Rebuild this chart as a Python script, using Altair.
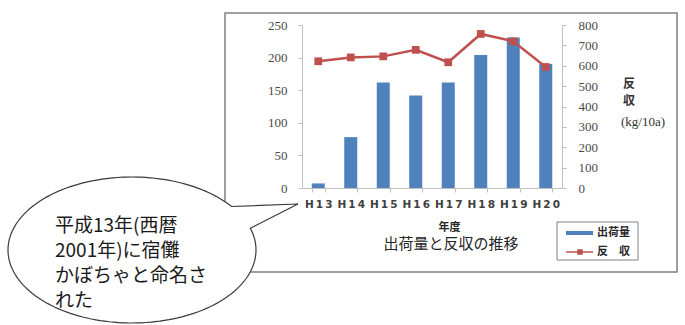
import altair as alt
import pandas as pd
import numpy as np

# ---- data ----
years = ["H13", "H14", "H15", "H16", "H17", "H18", "H19", "H20"]
shipment = [7, 78, 162, 142, 162, 204, 231, 190]          # 出荷量 (left axis)
yield_10a = [622, 641, 646, 678, 617, 756, 720, 594]      # 反収 kg/10a (right axis)
left_ticks = [0, 50, 100, 150, 200, 250]
right_ticks = [0, 100, 200, 300, 400, 500, 600, 700, 800]

chart_title = "出荷量と反収の推移"
x_title = "年度"
legend_labels = ["出荷量", "反　収"]
right_title_chars = ["反", "収"]
right_title_unit = "(kg/10a)"
bubble_lines = ["平成13年(西暦", "2001年)に宿儺", "かぼちゃと命名さ", "れた"]

BLUE = "#4F81BD"
RED = "#C0504D"
JP = "Noto Sans CJK JP"
SERIF = "Liberation Serif"

# plot-area placement inside the 685x325 canvas
OX, OY = 302, 25
W, H = 260, 163

df = pd.DataFrame({"year": years, "ship": shipment, "yld": yield_10a})
one = pd.DataFrame({"k": [0]})

xenc = alt.X(
    "year:N", sort=years,
    scale=alt.Scale(paddingInner=0.6, paddingOuter=0.3),
    axis=alt.Axis(
        title=x_title, labelAngle=0, labelFont="DejaVu Sans", labelFontWeight="bold",
        labelFontSize=10.5, labelColor="#404040", labelPadding=7,
        labelExpr="join(split(datum.label, ''), '\u2009')",
        domainColor="#bfbfbf", tickColor="#bfbfbf", tickSize=4, tickBand="extent",
        titleFont=JP, titleFontSize=11, titleFontWeight="bold", titleColor="#262626",
        titleX=147, titleY=39, titleBaseline="middle", titleAlign="center", zindex=1,
    ),
)

bars = alt.Chart(df).mark_bar(color=BLUE).encode(
    x=xenc,
    y=alt.Y("ship:Q", scale=alt.Scale(domain=[0, 250]),
            axis=alt.Axis(orient="left", values=left_ticks, title=None, grid=False,
                          labelFont=SERIF, labelFontSize=13, labelColor="#4a4a4a",
                          labelPadding=11, domainColor="#bfbfbf", tickColor="#bfbfbf",
                          tickSize=4, zindex=1)),
)

line = alt.Chart(df).mark_line(
    color=RED, strokeWidth=2.5,
    point=alt.OverlayMarkDef(shape="square", size=60, filled=True, color=RED, opacity=1),
).encode(
    x=xenc,
    y=alt.Y("yld:Q", scale=alt.Scale(domain=[0, 800]),
            axis=alt.Axis(orient="right", values=right_ticks, title=None, grid=False,
                          labelFont=SERIF, labelFontSize=13, labelColor="#4a4a4a",
                          labelPadding=12, domainColor="#bfbfbf", tickColor="#bfbfbf",
                          tickSize=4, zindex=1)),
)

# outer frame of the chart
frame = alt.Chart(one).mark_rect(fillOpacity=0, fill="white", stroke="#808080", strokeWidth=1.5).encode(
    x=alt.value(225 - OX), x2=alt.value(677 - OX),
    y=alt.value(13 - OY), y2=alt.value(272 - OY),
)

title_txt = alt.Chart(one).mark_text(
    font=JP, fontSize=15, color="#262626", align="center", baseline="middle"
).encode(x=alt.value(451 - OX), y=alt.value(244 - OY), text=alt.value(chart_title))

rt1 = alt.Chart(one).mark_text(
    font=JP, fontSize=12, fontWeight="bold", color="#333333", align="center", baseline="middle"
).encode(x=alt.value(629 - OX), y=alt.value(84 - OY), text=alt.value(right_title_chars[0]))
rt2 = alt.Chart(one).mark_text(
    font=JP, fontSize=12, fontWeight="bold", color="#333333", align="center", baseline="middle"
).encode(x=alt.value(629 - OX), y=alt.value(101 - OY), text=alt.value(right_title_chars[1]))
rt3 = alt.Chart(one).mark_text(
    font=SERIF, fontSize=13, color="#333333", align="center", baseline="middle"
).encode(x=alt.value(643 - OX), y=alt.value(122 - OY), text=alt.value(right_title_unit))

# legend (drawn by hand, Excel style)
lg_box = alt.Chart(one).mark_rect(fill="white", stroke="#808080", strokeWidth=1).encode(
    x=alt.value(557 - OX), x2=alt.value(638 - OX),
    y=alt.value(222 - OY), y2=alt.value(260 - OY),
)
lg_l1 = alt.Chart(one).mark_rule(color=BLUE, strokeWidth=4).encode(
    x=alt.value(566 - OX), x2=alt.value(593 - OX), y=alt.value(233 - OY))
lg_l2 = alt.Chart(one).mark_rule(color=RED, strokeWidth=1.5).encode(
    x=alt.value(566 - OX), x2=alt.value(593 - OX), y=alt.value(252 - OY))
lg_pt = alt.Chart(one).mark_point(shape="square", size=30, filled=True, color=RED, opacity=1).encode(
    x=alt.value(580 - OX), y=alt.value(252 - OY))
lg_t1 = alt.Chart(one).mark_text(
    font=JP, fontSize=11, fontWeight="bold", color="#262626", align="left", baseline="middle"
).encode(x=alt.value(597 - OX), y=alt.value(233 - OY), text=alt.value(legend_labels[0]))
lg_t2 = alt.Chart(one).mark_text(
    font=JP, fontSize=11, fontWeight="bold", color="#262626", align="left", baseline="middle"
).encode(x=alt.value(597 - OX), y=alt.value(252 - OY), text=alt.value(legend_labels[1]))

# speech bubble (ellipse with a tail pointing at H13)
CX, CY, RX, RY = 132, 250, 124, 73
TIP = (298, 204)
t = np.radians(np.linspace(-17.3, 323.4, 160))
ex, ey = np.cos(t), (RY / RX) * np.sin(t)
pts = " L ".join(f"{a:.4f} {b:.4f}" for a, b in zip(ex, ey))
tipx, tipy = (TIP[0] - CX) / RX, (TIP[1] - CY) / RX
bubble_path = f"M {pts} L {tipx:.4f} {tipy:.4f} Z"

bubble = alt.Chart(one).mark_point(
    shape=bubble_path, size=(2 * RX) ** 2, filled=True, fill="white",
    stroke="#3a3a3a", strokeWidth=1.2, opacity=1, fillOpacity=1, strokeOpacity=1,
).encode(x=alt.value(CX - OX), y=alt.value(CY - OY))

bubble_txt = alt.Chart(one).mark_text(
    font=JP, fontSize=19, color="#1a1a1a", align="left", baseline="middle",
    lineHeight=25, lineBreak="\n",
).encode(x=alt.value(55 - OX), y=alt.value(226 - OY), text=alt.value("\n".join(bubble_lines)))

chart = alt.layer(
    frame, bars, line, title_txt, rt1, rt2, rt3,
    lg_box, lg_l1, lg_l2, lg_pt, lg_t1, lg_t2, bubble, bubble_txt,
).resolve_scale(y="independent").properties(
    width=W, height=H,
    autosize=alt.AutoSizeParams(type="none"),
    padding={"left": OX, "top": OY, "right": 685 - OX - W, "bottom": 325 - OY - H},
    background="white",
).configure_view(stroke=None)

chart.save("out.html", embed_options={"renderer": "svg", "actions": False})
